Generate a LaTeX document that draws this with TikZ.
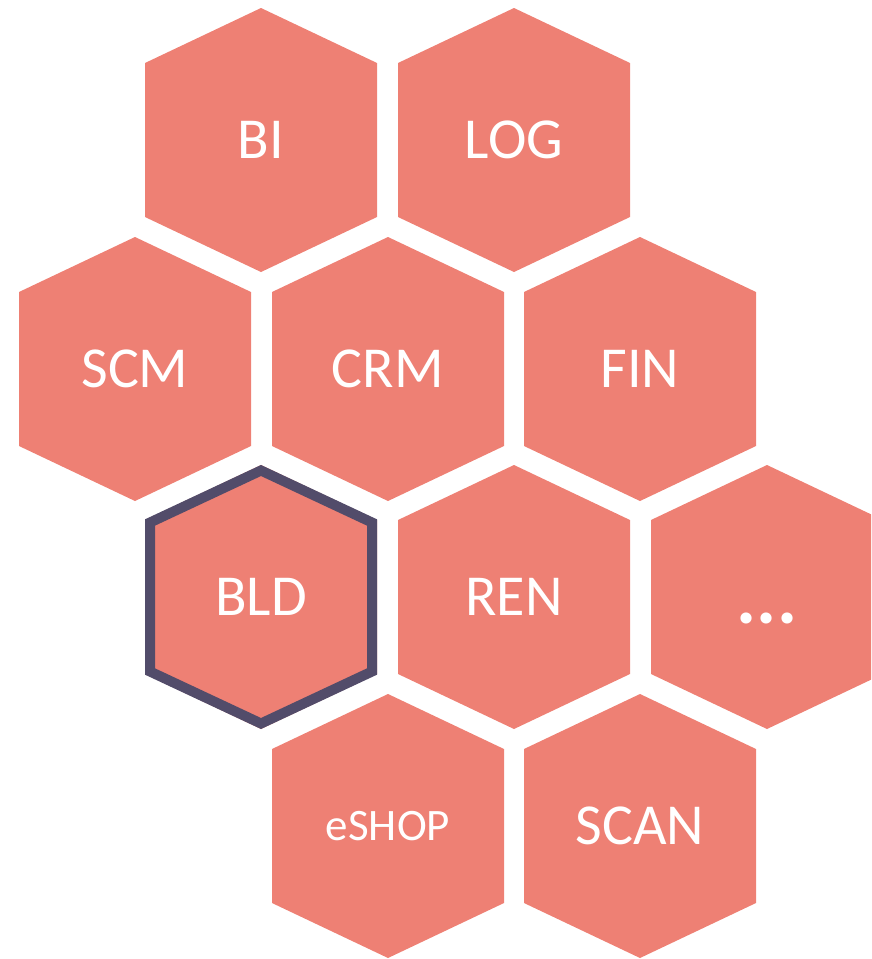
\documentclass[tikz,border=0pt]{standalone}
\usepackage{fontspec}
\setmainfont{Carlito}
\definecolor{hexfill}{RGB}{238,128,116}
\definecolor{hexedge}{RGB}{82,76,106}
\tikzset{
  honeycell/.pic={\fill[hexfill] (0,-132) -- (116,-77) -- (116,77) -- (0,132) -- (-116,77) -- (-116,-77) -- cycle;},
  honeyborder/.pic={\draw[hexedge, line width=10pt, line join=miter] (0,-126.5) -- (111,-74.5) -- (111,74.5) -- (0,126.5) -- (-111,74.5) -- (-111,-74.5) -- cycle;},
  hexlabel/.style={text=white, font=\fontsize{58}{60}\selectfont, inner sep=0pt},
  smalllabel/.style={text=white, font=\fontsize{45}{48}\selectfont, inner sep=0pt},
  dotslabel/.style={text=white, font=\bfseries\fontsize{75}{78}\selectfont, inner sep=0pt, anchor=base},
}
\begin{document}
\begin{tikzpicture}[x=1pt,y=-1pt]
\useasboundingbox (0,0) rectangle (871,959);
\clip (0,0) rectangle (871,959);
% row 1
\pic at (261,140) {honeycell};
\pic at (514,140) {honeycell};
% row 2
\pic at (135,369) {honeycell};
\pic at (388,369) {honeycell};
\pic at (640,369) {honeycell};
% row 3
\pic at (261,597) {honeycell};
\pic at (514,597) {honeycell};
\pic at (767,597) {honeycell};
% row 4
\pic at (388,826) {honeycell};
\pic at (640,826) {honeycell};
% highlighted cell
\pic at (261,597) {honeyborder};
% labels
\node[hexlabel] (bi) at (261,140) {BI};
\node[hexlabel] (log) at (514,140) {LOG};
\node[hexlabel] (scm) at (135,369) {SCM};
\node[hexlabel] (crm) at (388,369) {CRM};
\node[hexlabel] (fin) at (640,369) {FIN};
\node[hexlabel] (bld) at (261,597) {BLD};
\node[hexlabel] (ren) at (514,597) {REN};
\node[dotslabel] (more) at (767,623) {...};
\node[smalllabel] (eshop) at (388,826) {eSHOP};
\node[hexlabel] (scan) at (640,826) {SCAN};
\end{tikzpicture}
\end{document}
